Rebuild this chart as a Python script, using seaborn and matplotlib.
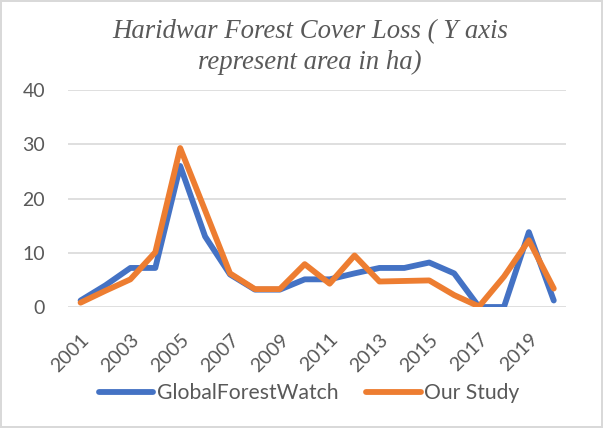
import pandas as pd
import numpy as np
import seaborn as sns
import matplotlib.pyplot as plt

# годы и значения потери лесного покрова (га)
years = list(range(2001, 2021))
gfw = [1.2, 4, 7.2, 7.2, 26, 13, 6, 3.2, 3.2, 5.1, 5.1, 6.2, 7.2, 7.2, 8.2, 6.2, 0, 0, 13.8, 1.2]
our_study = [0.8, 3, 5.1, 10.1, 29.3, 17.8, 6.2, 3.3, 3.3, 7.9, 4.3, 9.5, 4.7, 4.8, 4.9, 2.2, 0.1, 5.6, 12.3, 3.4]
series_names = ['GlobalForestWatch', 'Our Study']
tick_years = list(range(2001, 2021, 2))

df = pd.DataFrame({'Year': years * 2,
                   'Area': gfw + our_study,
                   'Source': [series_names[0]] * len(years) + [series_names[1]] * len(years)})

sns.set_style('white')
plt.rcParams['font.family'] = ['Lato', 'DejaVu Sans']

fig = plt.figure(figsize=(6.03, 4.28), dpi=100)
fig.patch.set_edgecolor('#d9d9d9')
fig.patch.set_linewidth(1.5)
ax = fig.add_axes([0.113, 0.2827, 0.826, 0.507])

sns.lineplot(data=df, x='Year', y='Area', hue='Source',
             palette=['#4472C4', '#ED7D31'], linewidth=4.2, ax=ax, legend=True)

ax.set_xlim(2000.5, 2020.5)
ax.set_ylim(0, 40)
ax.set_yticks([0, 10, 20, 30, 40])
ax.set_xticks(tick_years)
ax.set_xticklabels([str(y) for y in tick_years], rotation=45, ha='right',
                   rotation_mode='anchor', fontsize=14, color='#595959')
ax.tick_params(axis='y', labelsize=14, labelcolor='#595959', length=0, pad=16.5)
ax.tick_params(axis='x', length=0, pad=17)
ax.grid(axis='y', color='#d9d9d9', linewidth=1.2)
ax.set_axisbelow(True)
for s in ax.spines.values():
    s.set_visible(False)
ax.set_xlabel('')
ax.set_ylabel('')

fig.text(0.514, 0.911, 'Haridwar Forest Cover Loss ( Y axis', ha='center', va='baseline',
         fontsize=19.3, style='italic', family='Liberation Serif', color='#595959')
fig.text(0.514, 0.839, 'represent area in ha)', ha='center', va='baseline',
         fontsize=19.3, style='italic', family='Liberation Serif', color='#595959')

ax.legend(loc='center', bbox_to_anchor=(0.512, 0.082), bbox_transform=fig.transFigure,
          ncol=2, frameon=False, fontsize=15.2, handlelength=2.6, columnspacing=1.3,
          handletextpad=0.15, labelcolor='#595959')

plt.savefig('out.png', dpi=100)
